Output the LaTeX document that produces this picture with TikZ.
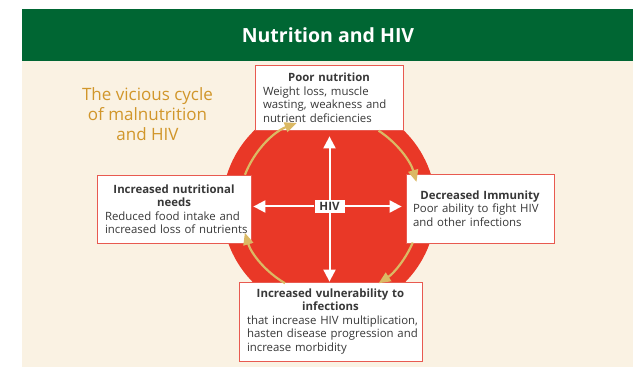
\documentclass[tikz,border=0pt]{standalone}
\usepackage{fontspec}
\setmainfont{Open Sans}
\usepackage{xcolor}
\usetikzlibrary{arrows.meta, positioning, calc}

\definecolor{bandgreen}{HTML}{006633}
\definecolor{creambg}{HTML}{FAF2E3}
\definecolor{hivred}{HTML}{E93827}
\definecolor{cyclegold}{HTML}{DBB964}
\definecolor{titlegold}{HTML}{D1962A}
\definecolor{boxred}{HTML}{E85A50}
\definecolor{textgray}{HTML}{383838}

\begin{document}
\begin{tikzpicture}[x=1pt, y=1pt,
  box/.style={draw=boxred, line width=0.8pt, fill=white, text=textgray,
    font=\fontsize{11.4}{13.5}\selectfont, align=left, inner xsep=3pt, inner ysep=0pt,
    execute at begin node={\hyphenpenalty=10000\exhyphenpenalty=10000}},
  cyc/.style={line width=2.2pt, cyclegold, -{Triangle[length=12pt,width=10pt]}},
  hivarrow/.style={line width=2pt, white, -{Triangle[length=12pt,width=12pt]}}]

  \useasboundingbox (0,0) rectangle (633,367);

  % fond + bandeau
  \fill[creambg] (22,0) rectangle (633,306);
  \fill[bandgreen] (22,306) rectangle (633,358);
  \node[white, font=\fontsize{19.5}{22}\selectfont\bfseries] (banner) at (328,332) {Nutrition and HIV};

  \node[titlegold, font=\fontsize{17}{20}\selectfont, align=center] (cycletitle) at (147.5,253)
    {The vicious cycle\\of malnutrition\\and HIV};

  % disque rouge + HIV au centre
  \node[circle, fill=hivred, minimum size=214pt, inner sep=0pt] (disc) at (329,160) {};
  \node[fill=white, text=textgray, font=\fontsize{11.5}{12}\selectfont\bfseries,
    minimum width=30pt, minimum height=13pt, inner sep=0pt] (hiv) at (329.5,160.5) {HIV};

  % les quatre cases
  \node[box, text width=142pt, minimum height=65pt] (poor) at (329,269.5)
    {{\centering\bfseries Poor nutrition\par}\leftskip=5pt
     Weight loss, muscle\par wasting, weakness and\par nutrient deficiencies\par};
  \node[box, text width=148pt, minimum height=68pt] (needs) at (174,158)
    {{\centering\bfseries Increased nutritional\\needs\par}\leftskip=5pt
     Reduced food intake and\par increased loss of nutrients\par};
  \node[box, text width=142pt, minimum height=69pt] (immun) at (480,158.5)
    {{\centering\bfseries Decreased Immunity\par}\leftskip=4pt
     Poor ability to fight HIV\par and other infections\par};
  \node[box, text width=177pt, minimum height=79pt] (vuln) at (330.5,45.5)
    {{\centering\bfseries Increased vulnerability to\\infections\par}\leftskip=5pt
     that increase HIV multiplication,\par hasten disease progression and\par increase morbidity\par};

  % fleches blanches depuis HIV
  \draw[hivarrow, shorten >=6pt] (hiv.north) -- (hiv.north |- poor.south);
  \draw[hivarrow] (hiv.south) -- (hiv.south |- vuln.north);
  \draw[hivarrow, shorten >=2pt] (hiv.west) -- (hiv.west -| needs.east);
  \draw[hivarrow, shorten >=4pt] (hiv.east) -- (hiv.east -| immun.west);

  % le cycle
  \draw[cyc] ($(disc.center)+(159:90)$) arc[start angle=159, end angle=111, radius=90];
  \draw[cyc] ($(disc.center)+(57:91)$) arc[start angle=57, end angle=16, radius=91];
  \draw[cyc] ($(disc.center)+(-23:91)$) arc[start angle=-23, end angle=-57, radius=91];
  \draw[cyc] ($(disc.center)+(-120:88)$) arc[start angle=-120, end angle=-163, radius=88];
\end{tikzpicture}
\end{document}
